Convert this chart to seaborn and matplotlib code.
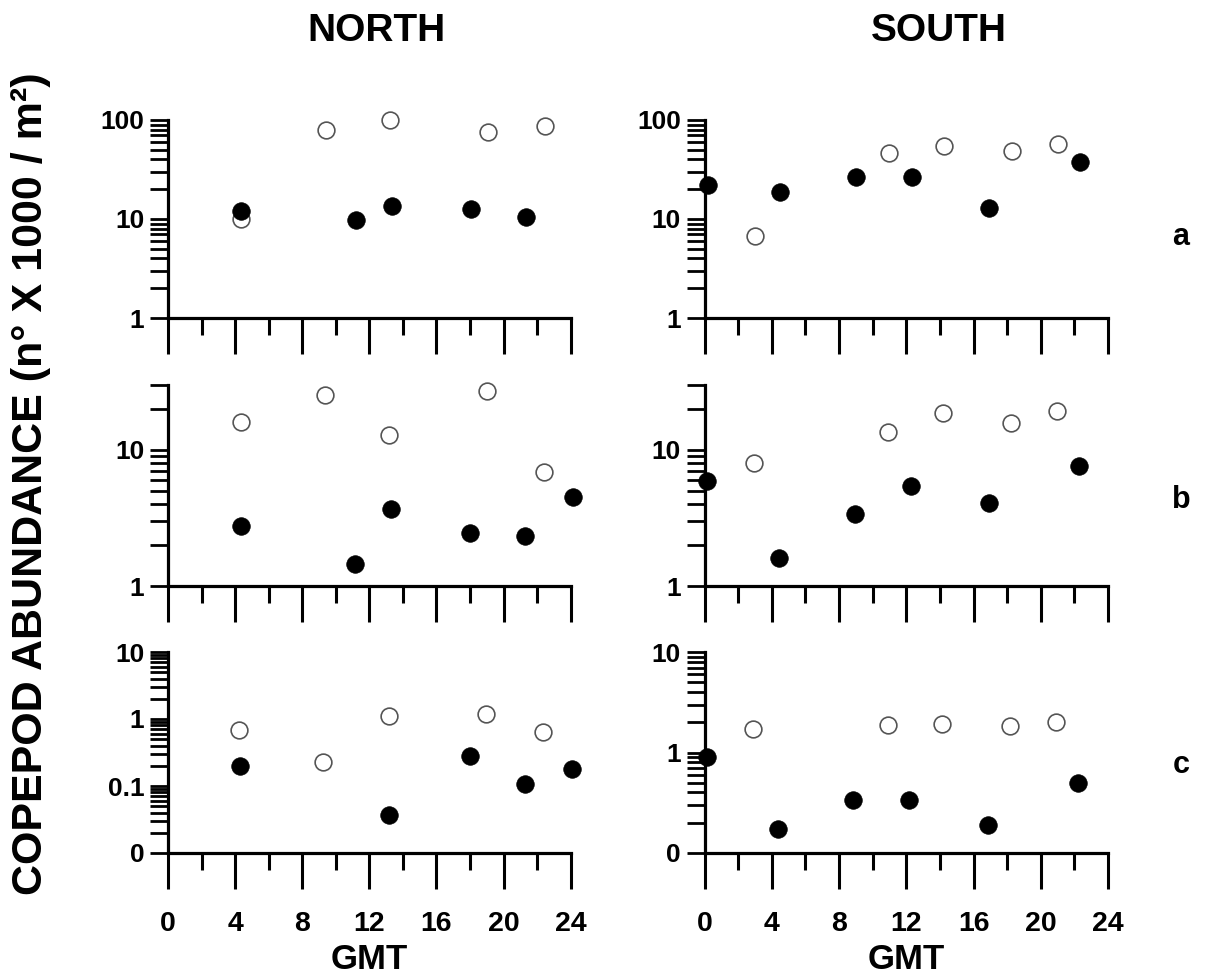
import matplotlib
matplotlib.use("Agg")
import matplotlib.pyplot as plt
import matplotlib.ticker as mticker
import seaborn as sns
import pandas as pd

# ---------------- data (GMT hour, abundance n x 1000 / m2) ----------------
NORTH_A_OPEN_GMT = [4.34, 9.39, 13.25, 19.06, 22.47]
NORTH_A_OPEN_VAL = [10.0, 79, 100, 76, 87]
NORTH_A_FILLED_GMT = [4.34, 11.2, 13.36, 18.05, 21.35]
NORTH_A_FILLED_VAL = [12.1, 9.8, 13.6, 12.7, 10.5]

NORTH_B_OPEN_GMT = [4.34, 9.33, 13.2, 19.0, 22.4]
NORTH_B_OPEN_VAL = [16.0, 25.5, 12.8, 27.3, 6.9]
NORTH_B_FILLED_GMT = [4.34, 11.16, 13.3, 17.99, 21.3, 24.16]
NORTH_B_FILLED_VAL = [2.77, 1.45, 3.69, 2.44, 2.33, 4.49]

NORTH_C_OPEN_GMT = [4.26, 9.23, 13.15, 18.97, 22.35]
NORTH_C_OPEN_VAL = [0.686, 0.23, 1.11, 1.17, 0.63]
NORTH_C_FILLED_GMT = [4.3, 13.2, 17.97, 21.27, 24.1]
NORTH_C_FILLED_VAL = [0.199, 0.037, 0.283, 0.107, 0.18]

SOUTH_A_OPEN_GMT = [3.0, 11.0, 14.26, 18.29, 21.02]
SOUTH_A_OPEN_VAL = [6.7, 46, 55, 48.6, 56.9]
SOUTH_A_FILLED_GMT = [0.22, 4.5, 9.0, 12.33, 16.95, 22.35]
SOUTH_A_FILLED_VAL = [22, 18.9, 26.7, 26.7, 12.8, 37.4]

SOUTH_B_OPEN_GMT = [2.95, 10.94, 14.21, 18.23, 20.96]
SOUTH_B_OPEN_VAL = [8.07, 13.5, 18.8, 15.9, 19.4]
SOUTH_B_FILLED_GMT = [0.13, 4.42, 8.96, 12.27, 16.93, 22.25]
SOUTH_B_FILLED_VAL = [5.9, 1.61, 3.38, 5.47, 4.1, 7.6]

SOUTH_C_OPEN_GMT = [2.9, 10.9, 14.15, 18.18, 20.92]
SOUTH_C_OPEN_VAL = [1.72, 1.89, 1.93, 1.83, 2.01]
SOUTH_C_FILLED_GMT = [0.13, 4.39, 8.85, 12.19, 16.89, 22.21]
SOUTH_C_FILLED_VAL = [0.906, 0.172, 0.334, 0.34, 0.19, 0.5]

X_TICKS = [0, 4, 8, 12, 16, 20, 24]
X_TICK_LABELS = ["0", "4", "8", "12", "16", "20", "24"]
COLUMN_TITLES = ["NORTH", "SOUTH"]
ROW_LABELS = ["a", "b", "c"]
Y_LABEL = "COPEPOD ABUNDANCE (n\u00b0 X 1000 / m\u00b2)"
X_LABEL = "GMT"

# y-axis definitions per panel: (limits, ticks, labels)
Y_A = ((1, 100), [1, 10, 100], ["1", "10", "100"])
Y_B = ((1, 30), [1, 10], ["1", "10"])
Y_C_NORTH = ((0.01, 10), [0.01, 0.1, 1, 10], ["0", "0.1", "1", "10"])
Y_C_SOUTH = ((0.1, 10), [0.1, 1, 10], ["0", "1", "10"])

# ---------------- styling ----------------
sns.set_style("ticks")
plt.rcParams["font.family"] = ["Liberation Sans", "DejaVu Sans"]
plt.rcParams["font.weight"] = "bold"
for key in ["text.color", "axes.labelcolor", "xtick.color", "ytick.color", "axes.edgecolor"]:
    plt.rcParams[key] = "black"

W, H = 1209, 976
fig = plt.figure(figsize=(W / 100, H / 100), dpi=100)

col_x = [(168, 570.7), (704.5, 1108)]
row_y = [(120, 318), (385, 586), (652, 853)]

panels = {
    (0, 0): (NORTH_A_OPEN_GMT, NORTH_A_OPEN_VAL, NORTH_A_FILLED_GMT, NORTH_A_FILLED_VAL, Y_A),
    (1, 0): (NORTH_B_OPEN_GMT, NORTH_B_OPEN_VAL, NORTH_B_FILLED_GMT, NORTH_B_FILLED_VAL, Y_B),
    (2, 0): (NORTH_C_OPEN_GMT, NORTH_C_OPEN_VAL, NORTH_C_FILLED_GMT, NORTH_C_FILLED_VAL, Y_C_NORTH),
    (0, 1): (SOUTH_A_OPEN_GMT, SOUTH_A_OPEN_VAL, SOUTH_A_FILLED_GMT, SOUTH_A_FILLED_VAL, Y_A),
    (1, 1): (SOUTH_B_OPEN_GMT, SOUTH_B_OPEN_VAL, SOUTH_B_FILLED_GMT, SOUTH_B_FILLED_VAL, Y_B),
    (2, 1): (SOUTH_C_OPEN_GMT, SOUTH_C_OPEN_VAL, SOUTH_C_FILLED_GMT, SOUTH_C_FILLED_VAL, Y_C_SOUTH),
}

SPINE_LW = 2.3
for (r, c), (ox, oy, fx, fy, ydef) in panels.items():
    x0, x1 = col_x[c]
    y0, y1 = row_y[r]
    ax = fig.add_axes([x0 / W, 1 - y1 / H, (x1 - x0) / W, (y1 - y0) / H])
    ax.set_yscale("log")

    open_df = pd.DataFrame({"gmt": ox, "val": oy})
    filled_df = pd.DataFrame({"gmt": fx, "val": fy})
    sns.scatterplot(data=open_df, x="gmt", y="val", ax=ax, s=145, marker="o",
                    facecolor="white", edgecolor="#555555", linewidth=1.2,
                    clip_on=False, zorder=3)
    sns.scatterplot(data=filled_df, x="gmt", y="val", ax=ax, s=160, marker="o",
                    color="black", edgecolor="black", linewidth=0.5,
                    clip_on=False, zorder=4)

    lims, yt, ytl = ydef
    ax.set_xlim(0, 24)
    ax.set_ylim(*lims)
    ax.set_yticks(yt)
    ax.set_yticklabels(ytl)
    ax.yaxis.set_minor_locator(mticker.LogLocator(base=10, subs=[2, 3, 4, 5, 6, 7, 8, 9], numticks=20))
    ax.yaxis.set_minor_formatter(mticker.NullFormatter())
    ax.set_xticks(X_TICKS)
    ax.set_xticks(range(2, 24, 4), minor=True)
    if r == 2:
        ax.set_xticklabels(X_TICK_LABELS)
        ax.set_xlabel(X_LABEL, fontsize=25, fontweight="bold", labelpad=4)
    else:
        ax.set_xticklabels([])
        ax.set_xlabel("")
    ax.set_ylabel("")

    for side in ["top", "right"]:
        ax.spines[side].set_visible(False)
    for side in ["left", "bottom"]:
        ax.spines[side].set_linewidth(SPINE_LW)
        ax.spines[side].set_color("black")

    ax.tick_params(axis="y", which="both", direction="out", length=13, width=2.0,
                   labelsize=19, pad=4, colors="black")
    ax.tick_params(axis="x", which="major", direction="out", length=26, width=2.2,
                   labelsize=20.5, pad=16, colors="black")
    ax.tick_params(axis="x", which="minor", direction="out", length=12, width=2.2)
    for lab in ax.get_xticklabels() + ax.get_yticklabels():
        lab.set_fontweight("bold")

# column titles
fig.text(376 / W, 1 - 31 / H, COLUMN_TITLES[0], ha="center", va="center",
         fontsize=28, fontweight="bold")
fig.text(939 / W, 1 - 31 / H, COLUMN_TITLES[1], ha="center", va="center",
         fontsize=28, fontweight="bold")

# row labels
for lab, yc in zip(ROW_LABELS, [237, 500, 765]):
    fig.text(1181 / W, 1 - yc / H, lab, ha="center", va="center",
             fontsize=22, fontweight="bold")

# shared y label
fig.text(31 / W, 1 - 484 / H, Y_LABEL, rotation=90, ha="center", va="center",
         fontsize=31, fontweight="bold")

fig.savefig("out.png", dpi=100, facecolor="white")
